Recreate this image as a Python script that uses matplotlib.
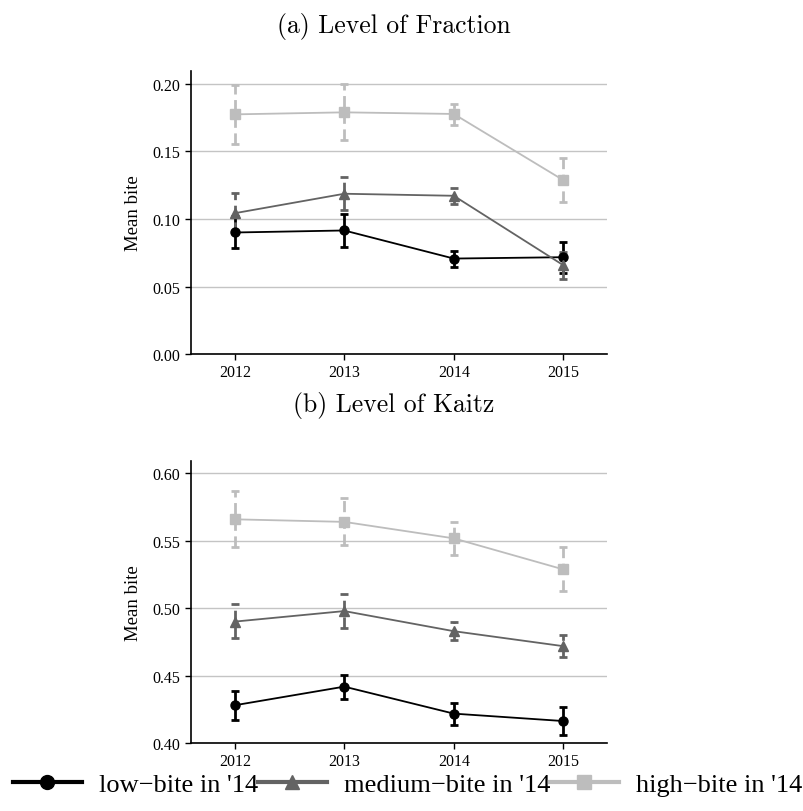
import matplotlib
matplotlib.use("Agg")
import matplotlib.pyplot as plt
from matplotlib.lines import Line2D
import numpy as np

plt.rcParams["font.family"] = ["Liberation Serif", "DejaVu Serif"]

years = [2012, 2013, 2014, 2015]
series_labels = ["low\u2212bite in '14", "medium\u2212bite in '14", "high\u2212bite in '14"]
series_colors = ["#000000", "#636363", "#bdbdbd"]
series_markers = ["o", "^", "s"]
marker_sizes = [6.5, 7.5, 7]

# (a) Level of Fraction: mean, lower, upper
frac_low = [0.0900, 0.0915, 0.0707, 0.0717]
frac_low_lo = [0.0786, 0.0796, 0.0643, 0.0603]
frac_low_hi = [0.1020, 0.1038, 0.0766, 0.0831]
frac_med = [0.1043, 0.1187, 0.1172, 0.0658]
frac_med_lo = [0.0895, 0.1063, 0.1112, 0.0559]
frac_med_hi = [0.1192, 0.1310, 0.1231, 0.0757]
frac_high = [0.1775, 0.1790, 0.1778, 0.1288]
frac_high_lo = [0.1557, 0.1587, 0.1693, 0.1127]
frac_high_hi = [0.1995, 0.2000, 0.1854, 0.1449]

# (b) Level of Kaitz
kaitz_low = [0.4280, 0.4418, 0.4218, 0.4163]
kaitz_low_lo = [0.4171, 0.4329, 0.4136, 0.4057]
kaitz_low_hi = [0.4389, 0.4507, 0.4300, 0.4270]
kaitz_med = [0.4900, 0.4978, 0.4829, 0.4718]
kaitz_med_lo = [0.4775, 0.4849, 0.4760, 0.4634]
kaitz_med_hi = [0.5030, 0.5104, 0.4896, 0.4802]
kaitz_high = [0.5658, 0.5639, 0.5517, 0.5287]
kaitz_high_lo = [0.5450, 0.5468, 0.5396, 0.5124]
kaitz_high_hi = [0.5869, 0.5814, 0.5639, 0.5453]

frac_yticks = [0.00, 0.05, 0.10, 0.15, 0.20]
kaitz_yticks = [0.40, 0.45, 0.50, 0.55, 0.60]


def draw_panel(ax, data, yticks, ylim):
    for i, (mean, lo, hi) in enumerate(data):
        mean = np.array(mean)
        err = [mean - np.array(lo), np.array(hi) - mean]
        ax.plot(years, mean, color=series_colors[i], lw=1.3, zorder=3)
        eb = ax.errorbar(years, mean, yerr=err, fmt="none", ecolor=series_colors[i],
                         elinewidth=2.0, capsize=3, capthick=2.0, zorder=2)
        if i > 0:
            for lc in eb[2]:
                lc.set_linestyle((0, (4, 2)))
        ax.plot(years, mean, ls="none", marker=series_markers[i], color=series_colors[i],
                markersize=marker_sizes[i], zorder=4)
    ax.set_xlim(2011.6, 2015.4)
    ax.set_ylim(*ylim)
    ax.set_xticks(years)
    ax.set_yticks(yticks)
    ax.set_yticklabels([f"{t:.2f}" for t in yticks])
    ax.yaxis.grid(True, color="#c4c4c4", lw=1.0)
    ax.set_axisbelow(True)
    for s in ["top", "right"]:
        ax.spines[s].set_visible(False)
    for s in ["left", "bottom"]:
        ax.spines[s].set_linewidth(1.2)
    ax.tick_params(labelsize=11.5, length=4, width=1.0)
    ax.set_ylabel("Mean bite", fontsize=13.5, labelpad=8)


fig = plt.figure(figsize=(8.04, 8.12), dpi=100)
ax1 = fig.add_axes([0.2376, 0.5628, 0.5174, 0.3485])
ax2 = fig.add_axes([0.2376, 0.0837, 0.5174, 0.3473])

draw_panel(ax1, [(frac_low, frac_low_lo, frac_low_hi),
                 (frac_med, frac_med_lo, frac_med_hi),
                 (frac_high, frac_high_lo, frac_high_hi)], frac_yticks, (0, 0.2096))
draw_panel(ax2, [(kaitz_low, kaitz_low_lo, kaitz_low_hi),
                 (kaitz_med, kaitz_med_lo, kaitz_med_hi),
                 (kaitz_high, kaitz_high_lo, kaitz_high_hi)], kaitz_yticks, (0.40, 0.609))

fig.text(0.49, 0.967, "(a) Level of Fraction", ha="center", va="center", fontsize=18.5, family="cmr10")
fig.text(0.49, 0.501, "(b) Level of Kaitz", ha="center", va="center", fontsize=18.5, family="cmr10")

handles = [Line2D([0], [0], color=series_colors[i], lw=3, marker=series_markers[i],
                  markersize=10) for i in range(3)]
fig.legend(handles, series_labels, loc="center", bbox_to_anchor=(0.507, 0.033), ncol=3,
           frameon=False, fontsize=19, handlelength=2.6, handletextpad=0.65,
           columnspacing=0.0, borderaxespad=0, borderpad=0)

fig.savefig("out.png", dpi=100)
